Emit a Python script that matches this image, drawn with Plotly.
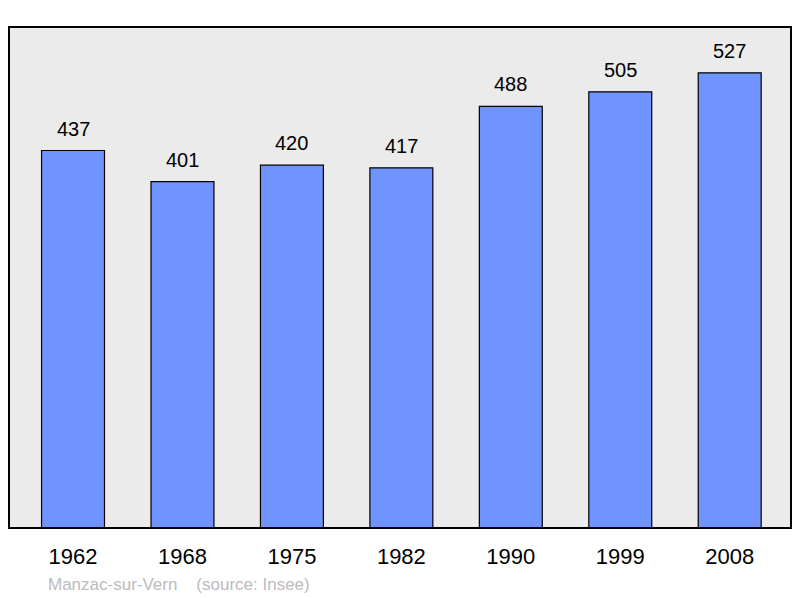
import plotly.graph_objects as go

years = ["1962", "1968", "1975", "1982", "1990", "1999", "2008"]
population = [437, 401, 420, 417, 488, 505, 527]
positions = list(range(len(years)))

fig = go.Figure()
fig.add_trace(go.Bar(
    x=positions, y=population, width=0.575,
    marker=dict(color="#7094ff", line=dict(color="#000000", width=1.2)),
    hoverinfo="skip",
))

for xi, v in zip(positions, population):
    fig.add_annotation(x=xi, y=v, text=str(v), showarrow=False,
                       yanchor="bottom", yshift=9,
                       font=dict(family="Liberation Sans, Arial", size=20, color="#000000"))

fig.add_shape(type="rect", xref="paper", yref="paper", x0=0, x1=1, y0=0, y1=1,
              line=dict(color="#000000", width=2), fillcolor="rgba(0,0,0,0)", layer="above")

fig.add_annotation(xref="paper", yref="paper", x=0, y=0, xshift=37, yshift=-56, xanchor="left", yanchor="middle",
                   text="Manzac-sur-Vern&nbsp;&nbsp;&nbsp;&nbsp;(source: Insee)", showarrow=False,
                   font=dict(family="Liberation Sans, Arial", size=17, color="#bbbbbb"))

fig.update_layout(
    width=792, height=590,
    margin=dict(l=1, r=9, t=19, b=70),
    paper_bgcolor="#ffffff", plot_bgcolor="#ebebeb",
    showlegend=False,
    xaxis=dict(range=[-0.585, 6.56], tickmode="array", tickvals=positions, ticktext=years,
               showgrid=False, zeroline=False, showline=False, ticks="", ticklabelstandoff=13,
               tickfont=dict(family="Liberation Sans, Arial", size=22, color="#000000")),
    yaxis=dict(range=[0, 580], showgrid=False, zeroline=False, showticklabels=False, showline=False),
)
fig.write_html("out.html")
